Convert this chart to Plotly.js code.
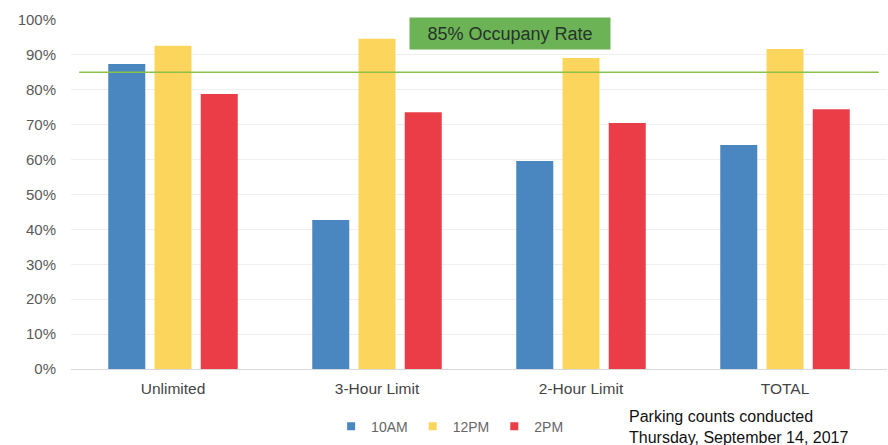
<!DOCTYPE html>
<html><head><meta charset="utf-8">
<script src="https://cdn.plot.ly/plotly-3.0.1.min.js"></script>
<style>html,body{margin:0;padding:0;background:#fff}#c{width:888px;height:445px}</style>
</head><body><div id="c"></div>
<script>
const categories = ["Unlimited", "3-Hour Limit", "2-Hour Limit", "TOTAL"];
const am10 = [0.874, 0.427, 0.596, 0.642];
const pm12 = [0.926, 0.946, 0.891, 0.917];
const pm2  = [0.788, 0.736, 0.705, 0.744];
const seriesNames = ["10AM", "12PM", "2PM"];
const yTicks = [0,0.1,0.2,0.3,0.4,0.5,0.6,0.7,0.8,0.9,1.0];
const yTickText = ["0%","10%","20%","30%","40%","50%","60%","70%","80%","90%","100%"];
const targetRate = 0.85;
const targetLabel = "85% Occupany Rate";
const noteLines = ["Parking counts conducted", "Thursday, September 14, 2017"];

const colors = ["#4a86c0", "#fbd55c", "#ea3d47"];
const vals = [am10, pm12, pm2];
const traces = vals.map((v,i)=>({
  type:"bar", x:categories, y:v, name:seriesNames[i], showlegend:false,
  marker:{color:colors[i]}
}));
// legend entries with small square markers
seriesNames.forEach((n,i)=>traces.push({
  type:"scatter", mode:"markers", x:[categories[0]], y:[null], name:n,
  marker:{symbol:"square", size:8, color:colors[i]}, showlegend:true
}));

const layout = {
  width:888, height:445,
  margin:{l:71, r:1, t:20, b:76},
  paper_bgcolor:"#fff", plot_bgcolor:"#fff",
  font:{family:"Liberation Sans, Arial, sans-serif", color:"#555"},
  barmode:"group", bargap:0.32, bargroupgap:0.2,
  showlegend:true,
  legend:{orientation:"h", x:0.464, xanchor:"center", y:-0.165, yanchor:"middle",
    font:{size:14, color:"#666"}, itemwidth:30, traceorder:"normal", tracegroupgap:0},
  xaxis:{showgrid:false, showline:true, linecolor:"#d9d9d9", ticks:"",
    tickfont:{size:15.5, color:"#444"}, ticklabelstandoff:5},
  yaxis:{range:[0,1.0], tickvals:yTicks, ticktext:yTickText,
    gridcolor:"#efefef", showline:false, zeroline:false, ticks:"",
    tickfont:{size:15, color:"#595959"}, ticklabelstandoff:14},
  shapes:[{type:"line", xref:"paper", yref:"y", x0:0.01, x1:0.99, y0:targetRate, y1:targetRate,
    line:{color:"#8cc24a", width:1.5}}],
  annotations:[
    {xref:"paper", yref:"paper", x:0.538, y:0.961, xanchor:"center", yanchor:"middle",
     text:targetLabel, showarrow:false, bgcolor:"#6cb356", borderpad:0,
     width:200, height:31, font:{size:18, color:"#27332a"}},
    {xref:"paper", yref:"paper", x:0.681, y:-0.165, xanchor:"left", yanchor:"middle", align:"left",
     text:noteLines.join("<br>"), showarrow:false, font:{size:16, color:"#111"}}
  ]
};
Plotly.newPlot("c", traces, layout, {displayModeBar:false, staticPlot:true});
</script></body></html>
